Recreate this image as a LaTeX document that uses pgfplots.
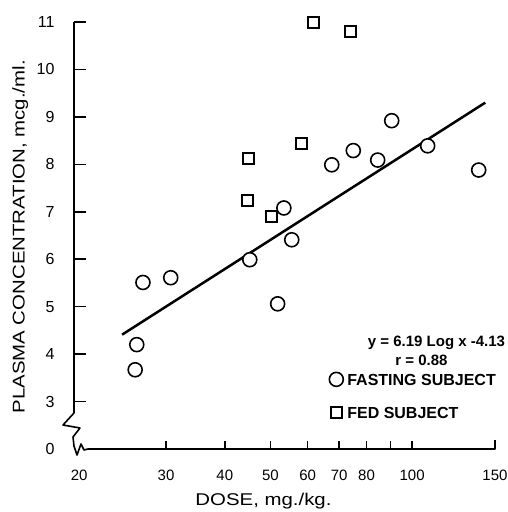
\documentclass[border=0pt]{standalone}
\usepackage{fontspec}
\setmainfont{Liberation Sans}
\newfontfamily\widefont[FakeStretch=1.2]{Liberation Sans}
\usepackage{pgfplots}
\pgfplotsset{compat=1.18}
\begin{document}
\begin{tikzpicture}
\path[use as bounding box] (-74pt,-63pt) rectangle (433pt,449pt);
\begin{axis}[
  scale only axis, width=421pt, height=427pt,
  xmode=log, xmin=19.13, xmax=150, ymin=2, ymax=11,
  axis x line=bottom, axis y line=left,
  axis line style={draw=none},
  clip=false,
  xtick align=inside, ytick align=inside,
  major tick length=8pt,
  tick style={line width=1.6pt, black},
  ytick style={/pgfplots/major tick length=12pt},
  xtick={30,40,50,60,70,80,90,100,150},
  xticklabels={30,40,50,60,70,80,,100,150},
  ytick={3,4,5,6,7,8,9,10,11},
  yticklabels={3,4,5,6,7,8,9,10,11},
  extra x ticks={20}, extra x tick labels={20},
  extra x tick style={tick style={draw=none}, xticklabel style={xshift=-4pt}},
  extra y ticks={2}, extra y tick labels={0},
  extra y tick style={tick style={draw=none}},
  /pgf/number format/assume math mode=true,
  xticklabel style={font=\fontsize{15}{18}\selectfont, anchor=center, yshift=-26pt},
  yticklabel style={font=\fontsize{16}{19}\selectfont, anchor=east, xshift=-16pt},
  xlabel={DOSE, mg./kg.},
  ylabel={PLASMA CONCENTRATION, mcg./ml.},
  every axis x label/.style={at={(axis description cs:0.450,-0.122)}, anchor=center, font=\widefont\fontsize{17}{20}\selectfont},
  every axis y label/.style={at={(axis description cs:-0.128,0.497)}, rotate=90, anchor=center, font=\widefont\fontsize{17}{20}\selectfont},
  legend style={draw=none, fill=none, inner sep=0pt, at={(axis description cs:0.606,0.187)}, anchor=north west,
    font=\bfseries\fontsize{16}{19}\selectfont, row sep=13pt,
    nodes={inner sep=4pt, text height=12pt, text depth=0pt}},
  legend cell align=left,
  legend image code/.code={\draw[mark repeat=2,mark phase=2,#1] plot coordinates {(0pt,0pt)(7pt,0pt)(14pt,0pt)};},
]
\addplot[only marks, mark=*, mark size=7pt, line width=1.6pt, draw=black, fill=white,
  mark options={fill=white}] coordinates {
  (26.8,5.51) (30.7,5.61) (26.0,4.20) (25.8,3.67) (45.2,5.99) (51.8,5.06)
  (53.4,7.08) (55.5,6.41) (67.5,7.99) (75.0,8.29) (84.5,8.09) (90.5,8.92)
  (107.9,8.39) (138.5,7.88)
};
\addlegendentry{FASTING SUBJECT}
\addplot[only marks, mark=square*, mark size=5.5pt, line width=2pt, draw=black, fill=white,
  mark options={fill=white}] coordinates {
  (44.9,8.13) (44.6,7.23) (50.3,6.89) (58.1,8.43) (61.7,10.99) (73.8,10.79)
};
\addlegendentry{FED SUBJECT}
\addplot[black, line width=2.5pt, no marks, forget plot] coordinates {(24.2,4.41) (143,9.30)};
\end{axis}
% axis lines with break
\draw[line width=1.6pt, line join=round] (0pt,427pt) -- (0pt,36pt) -- (-11pt,24pt) -- (6pt,21pt) -- (-1pt,12pt) -- (0pt,3pt) -- (3pt,-6pt) -- (7pt,5pt) -- (10pt,-1pt) -- (14pt,0pt) -- (421pt,0pt) -- (421pt,9pt);
\node[font=\bfseries\fontsize{15}{18}\selectfont] at (362.5pt,106pt) {y = 6.19 Log x -4.13};
\node[font=\bfseries\fontsize{15}{18}\selectfont] at (347.5pt,89pt) {r = 0.88};
\end{tikzpicture}
\end{document}
